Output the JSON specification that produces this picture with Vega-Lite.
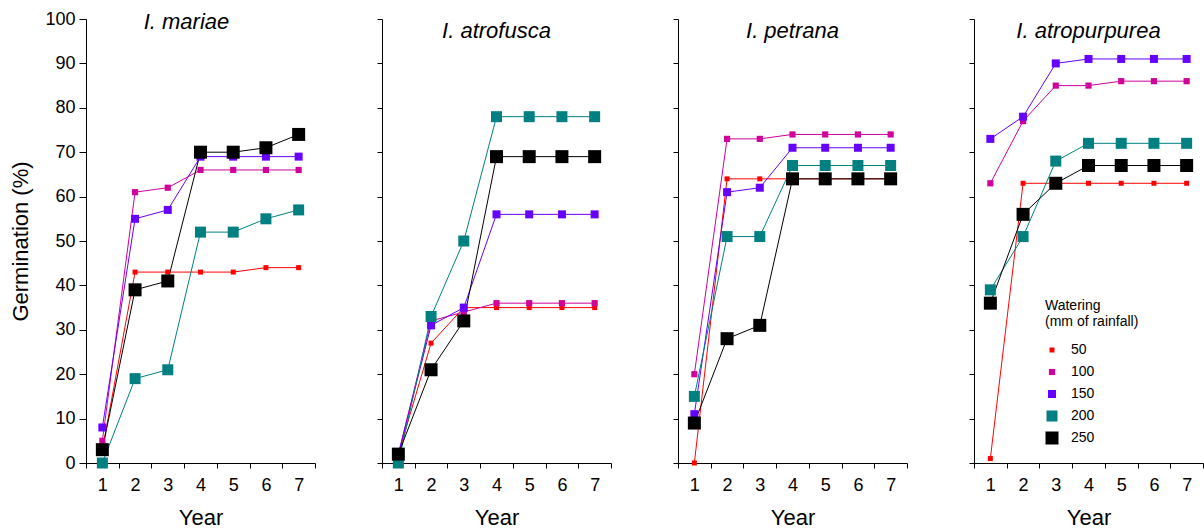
{
  "$schema": "https://vega.github.io/schema/vega-lite/v6.json",
  "padding": {"left": 9, "top": 10, "right": 0, "bottom": 0},
  "config": {
    "font": "Liberation Sans",
    "view": {"stroke": null},
    "axis": {"grid": false, "domainColor": "black", "tickColor": "black", "labelColor": "black", "titleColor": "black", "titleFontWeight": "normal", "labelFont": "Liberation Sans", "titleFont": "Liberation Sans"},
    "title": {"font": "Liberation Sans", "fontStyle": "italic", "fontWeight": "normal", "fontSize": 22, "color": "black", "anchor": "middle", "offset": -24},
    "legend": {"titleFontSize": 14, "titleFontWeight": "normal", "labelFontSize": 14, "titleColor": "black", "labelColor": "black", "labelFont": "Liberation Sans", "titleFont": "Liberation Sans"}
  },
  "data": {"values": [
    {"species": "I. mariae", "watering": 50, "year": 1, "germination": 3},
    {"species": "I. mariae", "watering": 50, "year": 2, "germination": 43},
    {"species": "I. mariae", "watering": 50, "year": 3, "germination": 43},
    {"species": "I. mariae", "watering": 50, "year": 4, "germination": 43},
    {"species": "I. mariae", "watering": 50, "year": 5, "germination": 43},
    {"species": "I. mariae", "watering": 50, "year": 6, "germination": 44},
    {"species": "I. mariae", "watering": 50, "year": 7, "germination": 44},
    {"species": "I. mariae", "watering": 100, "year": 1, "germination": 5},
    {"species": "I. mariae", "watering": 100, "year": 2, "germination": 61},
    {"species": "I. mariae", "watering": 100, "year": 3, "germination": 62},
    {"species": "I. mariae", "watering": 100, "year": 4, "germination": 66},
    {"species": "I. mariae", "watering": 100, "year": 5, "germination": 66},
    {"species": "I. mariae", "watering": 100, "year": 6, "germination": 66},
    {"species": "I. mariae", "watering": 100, "year": 7, "germination": 66},
    {"species": "I. mariae", "watering": 150, "year": 1, "germination": 8},
    {"species": "I. mariae", "watering": 150, "year": 2, "germination": 55},
    {"species": "I. mariae", "watering": 150, "year": 3, "germination": 57},
    {"species": "I. mariae", "watering": 150, "year": 4, "germination": 69},
    {"species": "I. mariae", "watering": 150, "year": 5, "germination": 69},
    {"species": "I. mariae", "watering": 150, "year": 6, "germination": 69},
    {"species": "I. mariae", "watering": 150, "year": 7, "germination": 69},
    {"species": "I. mariae", "watering": 200, "year": 1, "germination": 0},
    {"species": "I. mariae", "watering": 200, "year": 2, "germination": 19},
    {"species": "I. mariae", "watering": 200, "year": 3, "germination": 21},
    {"species": "I. mariae", "watering": 200, "year": 4, "germination": 52},
    {"species": "I. mariae", "watering": 200, "year": 5, "germination": 52},
    {"species": "I. mariae", "watering": 200, "year": 6, "germination": 55},
    {"species": "I. mariae", "watering": 200, "year": 7, "germination": 57},
    {"species": "I. mariae", "watering": 250, "year": 1, "germination": 3},
    {"species": "I. mariae", "watering": 250, "year": 2, "germination": 39},
    {"species": "I. mariae", "watering": 250, "year": 3, "germination": 41},
    {"species": "I. mariae", "watering": 250, "year": 4, "germination": 70},
    {"species": "I. mariae", "watering": 250, "year": 5, "germination": 70},
    {"species": "I. mariae", "watering": 250, "year": 6, "germination": 71},
    {"species": "I. mariae", "watering": 250, "year": 7, "germination": 74},
    {"species": "I. atrofusca", "watering": 50, "year": 1, "germination": 2},
    {"species": "I. atrofusca", "watering": 50, "year": 2, "germination": 27},
    {"species": "I. atrofusca", "watering": 50, "year": 3, "germination": 35},
    {"species": "I. atrofusca", "watering": 50, "year": 4, "germination": 35},
    {"species": "I. atrofusca", "watering": 50, "year": 5, "germination": 35},
    {"species": "I. atrofusca", "watering": 50, "year": 6, "germination": 35},
    {"species": "I. atrofusca", "watering": 50, "year": 7, "germination": 35},
    {"species": "I. atrofusca", "watering": 100, "year": 1, "germination": 2},
    {"species": "I. atrofusca", "watering": 100, "year": 2, "germination": 32},
    {"species": "I. atrofusca", "watering": 100, "year": 3, "germination": 34},
    {"species": "I. atrofusca", "watering": 100, "year": 4, "germination": 36},
    {"species": "I. atrofusca", "watering": 100, "year": 5, "germination": 36},
    {"species": "I. atrofusca", "watering": 100, "year": 6, "germination": 36},
    {"species": "I. atrofusca", "watering": 100, "year": 7, "germination": 36},
    {"species": "I. atrofusca", "watering": 150, "year": 1, "germination": 2},
    {"species": "I. atrofusca", "watering": 150, "year": 2, "germination": 31},
    {"species": "I. atrofusca", "watering": 150, "year": 3, "germination": 35},
    {"species": "I. atrofusca", "watering": 150, "year": 4, "germination": 56},
    {"species": "I. atrofusca", "watering": 150, "year": 5, "germination": 56},
    {"species": "I. atrofusca", "watering": 150, "year": 6, "germination": 56},
    {"species": "I. atrofusca", "watering": 150, "year": 7, "germination": 56},
    {"species": "I. atrofusca", "watering": 200, "year": 1, "germination": 0},
    {"species": "I. atrofusca", "watering": 200, "year": 2, "germination": 33},
    {"species": "I. atrofusca", "watering": 200, "year": 3, "germination": 50},
    {"species": "I. atrofusca", "watering": 200, "year": 4, "germination": 78},
    {"species": "I. atrofusca", "watering": 200, "year": 5, "germination": 78},
    {"species": "I. atrofusca", "watering": 200, "year": 6, "germination": 78},
    {"species": "I. atrofusca", "watering": 200, "year": 7, "germination": 78},
    {"species": "I. atrofusca", "watering": 250, "year": 1, "germination": 2},
    {"species": "I. atrofusca", "watering": 250, "year": 2, "germination": 21},
    {"species": "I. atrofusca", "watering": 250, "year": 3, "germination": 32},
    {"species": "I. atrofusca", "watering": 250, "year": 4, "germination": 69},
    {"species": "I. atrofusca", "watering": 250, "year": 5, "germination": 69},
    {"species": "I. atrofusca", "watering": 250, "year": 6, "germination": 69},
    {"species": "I. atrofusca", "watering": 250, "year": 7, "germination": 69},
    {"species": "I. petrana", "watering": 50, "year": 1, "germination": 0},
    {"species": "I. petrana", "watering": 50, "year": 2, "germination": 64},
    {"species": "I. petrana", "watering": 50, "year": 3, "germination": 64},
    {"species": "I. petrana", "watering": 50, "year": 4, "germination": 64},
    {"species": "I. petrana", "watering": 50, "year": 5, "germination": 64},
    {"species": "I. petrana", "watering": 50, "year": 6, "germination": 64},
    {"species": "I. petrana", "watering": 50, "year": 7, "germination": 64},
    {"species": "I. petrana", "watering": 100, "year": 1, "germination": 20},
    {"species": "I. petrana", "watering": 100, "year": 2, "germination": 73},
    {"species": "I. petrana", "watering": 100, "year": 3, "germination": 73},
    {"species": "I. petrana", "watering": 100, "year": 4, "germination": 74},
    {"species": "I. petrana", "watering": 100, "year": 5, "germination": 74},
    {"species": "I. petrana", "watering": 100, "year": 6, "germination": 74},
    {"species": "I. petrana", "watering": 100, "year": 7, "germination": 74},
    {"species": "I. petrana", "watering": 150, "year": 1, "germination": 11},
    {"species": "I. petrana", "watering": 150, "year": 2, "germination": 61},
    {"species": "I. petrana", "watering": 150, "year": 3, "germination": 62},
    {"species": "I. petrana", "watering": 150, "year": 4, "germination": 71},
    {"species": "I. petrana", "watering": 150, "year": 5, "germination": 71},
    {"species": "I. petrana", "watering": 150, "year": 6, "germination": 71},
    {"species": "I. petrana", "watering": 150, "year": 7, "germination": 71},
    {"species": "I. petrana", "watering": 200, "year": 1, "germination": 15},
    {"species": "I. petrana", "watering": 200, "year": 2, "germination": 51},
    {"species": "I. petrana", "watering": 200, "year": 3, "germination": 51},
    {"species": "I. petrana", "watering": 200, "year": 4, "germination": 67},
    {"species": "I. petrana", "watering": 200, "year": 5, "germination": 67},
    {"species": "I. petrana", "watering": 200, "year": 6, "germination": 67},
    {"species": "I. petrana", "watering": 200, "year": 7, "germination": 67},
    {"species": "I. petrana", "watering": 250, "year": 1, "germination": 9},
    {"species": "I. petrana", "watering": 250, "year": 2, "germination": 28},
    {"species": "I. petrana", "watering": 250, "year": 3, "germination": 31},
    {"species": "I. petrana", "watering": 250, "year": 4, "germination": 64},
    {"species": "I. petrana", "watering": 250, "year": 5, "germination": 64},
    {"species": "I. petrana", "watering": 250, "year": 6, "germination": 64},
    {"species": "I. petrana", "watering": 250, "year": 7, "germination": 64},
    {"species": "I. atropurpurea", "watering": 50, "year": 1, "germination": 1},
    {"species": "I. atropurpurea", "watering": 50, "year": 2, "germination": 63},
    {"species": "I. atropurpurea", "watering": 50, "year": 3, "germination": 63},
    {"species": "I. atropurpurea", "watering": 50, "year": 4, "germination": 63},
    {"species": "I. atropurpurea", "watering": 50, "year": 5, "germination": 63},
    {"species": "I. atropurpurea", "watering": 50, "year": 6, "germination": 63},
    {"species": "I. atropurpurea", "watering": 50, "year": 7, "germination": 63},
    {"species": "I. atropurpurea", "watering": 100, "year": 1, "germination": 63},
    {"species": "I. atropurpurea", "watering": 100, "year": 2, "germination": 77},
    {"species": "I. atropurpurea", "watering": 100, "year": 3, "germination": 85},
    {"species": "I. atropurpurea", "watering": 100, "year": 4, "germination": 85},
    {"species": "I. atropurpurea", "watering": 100, "year": 5, "germination": 86},
    {"species": "I. atropurpurea", "watering": 100, "year": 6, "germination": 86},
    {"species": "I. atropurpurea", "watering": 100, "year": 7, "germination": 86},
    {"species": "I. atropurpurea", "watering": 150, "year": 1, "germination": 73},
    {"species": "I. atropurpurea", "watering": 150, "year": 2, "germination": 78},
    {"species": "I. atropurpurea", "watering": 150, "year": 3, "germination": 90},
    {"species": "I. atropurpurea", "watering": 150, "year": 4, "germination": 91},
    {"species": "I. atropurpurea", "watering": 150, "year": 5, "germination": 91},
    {"species": "I. atropurpurea", "watering": 150, "year": 6, "germination": 91},
    {"species": "I. atropurpurea", "watering": 150, "year": 7, "germination": 91},
    {"species": "I. atropurpurea", "watering": 200, "year": 1, "germination": 39},
    {"species": "I. atropurpurea", "watering": 200, "year": 2, "germination": 51},
    {"species": "I. atropurpurea", "watering": 200, "year": 3, "germination": 68},
    {"species": "I. atropurpurea", "watering": 200, "year": 4, "germination": 72},
    {"species": "I. atropurpurea", "watering": 200, "year": 5, "germination": 72},
    {"species": "I. atropurpurea", "watering": 200, "year": 6, "germination": 72},
    {"species": "I. atropurpurea", "watering": 200, "year": 7, "germination": 72},
    {"species": "I. atropurpurea", "watering": 250, "year": 1, "germination": 36},
    {"species": "I. atropurpurea", "watering": 250, "year": 2, "germination": 56},
    {"species": "I. atropurpurea", "watering": 250, "year": 3, "germination": 63},
    {"species": "I. atropurpurea", "watering": 250, "year": 4, "germination": 67},
    {"species": "I. atropurpurea", "watering": 250, "year": 5, "germination": 67},
    {"species": "I. atropurpurea", "watering": 250, "year": 6, "germination": 67},
    {"species": "I. atropurpurea", "watering": 250, "year": 7, "germination": 67}
  ]},
  "spacing": 60,
  "hconcat": [
    {
      "width": 229, "height": 444,
      "title": {"text": "I. mariae", "dx": -14},
      "transform": [{"filter": "datum.species === 'I. mariae'"}],
      "encoding": {
        "x": {"field": "year", "type": "ordinal", "scale": {"type": "band", "paddingInner": 0, "paddingOuter": 0}, "axis": {"title": "Year", "labelAngle": 0, "tickBand": "extent", "labelFontSize": 18, "titleFontSize": 22, "tickSize": 5, "labelPadding": 8, "titlePadding": 13}},
        "y": {"field": "germination", "type": "quantitative", "scale": {"domain": [0, 100], "nice": false}, "axis": {"title": "Germination (%)", "values": [0, 10, 20, 30, 40, 50, 60, 70, 80, 90, 100], "labelFontSize": 18, "titleFontSize": 22, "tickSize": 7, "labelPadding": 4, "titlePadding": 12}},
        "color": {"field": "watering", "type": "ordinal", "scale": {"domain": [50, 100, 150, 200, 250], "range": ["#FF0000", "#D0009A", "#6600FF", "#008080", "#000000"]}, "legend": {"title": ["Watering", "(mm of rainfall)"], "orient": "none", "legendX": 959, "legendY": 280, "symbolType": "square", "rowPadding": 8, "titlePadding": 14, "symbolStrokeWidth": 0, "labelOffset": 12}},
        "size": {"field": "watering", "type": "ordinal", "scale": {"type": "ordinal", "domain": [50, 100, 150, 200, 250], "range": [25, 38, 64, 121, 169]}}
      },
      "layer": [
        {"mark": {"type": "line", "strokeWidth": 1}, "encoding": {"size": {"value": 1}}},
        {"mark": {"type": "point", "shape": "square", "filled": true, "opacity": 1}}
      ]
    },
    {
      "width": 229, "height": 444,
      "title": {"text": "I. atrofusca"},
      "transform": [{"filter": "datum.species === 'I. atrofusca'"}],
      "encoding": {
        "x": {"field": "year", "type": "ordinal", "scale": {"type": "band", "paddingInner": 0, "paddingOuter": 0}, "axis": {"title": "Year", "labelAngle": 0, "tickBand": "extent", "labelFontSize": 18, "titleFontSize": 22, "tickSize": 5, "labelPadding": 8, "titlePadding": 13}},
        "y": {"field": "germination", "type": "quantitative", "scale": {"domain": [0, 100], "nice": false}, "axis": {"title": null, "values": [0, 10, 20, 30, 40, 50, 60, 70, 80, 90, 100], "labels": false, "tickSize": 5}},
        "color": {"field": "watering", "type": "ordinal", "scale": {"domain": [50, 100, 150, 200, 250], "range": ["#FF0000", "#D0009A", "#6600FF", "#008080", "#000000"]}},
        "size": {"field": "watering", "type": "ordinal", "scale": {"type": "ordinal", "domain": [50, 100, 150, 200, 250], "range": [25, 38, 64, 121, 169]}}
      },
      "layer": [
        {"mark": {"type": "line", "strokeWidth": 1}, "encoding": {"size": {"value": 1}}},
        {"mark": {"type": "point", "shape": "square", "filled": true, "opacity": 1}}
      ]
    },
    {
      "width": 229, "height": 444,
      "title": {"text": "I. petrana"},
      "transform": [{"filter": "datum.species === 'I. petrana'"}],
      "encoding": {
        "x": {"field": "year", "type": "ordinal", "scale": {"type": "band", "paddingInner": 0, "paddingOuter": 0}, "axis": {"title": "Year", "labelAngle": 0, "tickBand": "extent", "labelFontSize": 18, "titleFontSize": 22, "tickSize": 5, "labelPadding": 8, "titlePadding": 13}},
        "y": {"field": "germination", "type": "quantitative", "scale": {"domain": [0, 100], "nice": false}, "axis": {"title": null, "values": [0, 10, 20, 30, 40, 50, 60, 70, 80, 90, 100], "labels": false, "tickSize": 5}},
        "color": {"field": "watering", "type": "ordinal", "scale": {"domain": [50, 100, 150, 200, 250], "range": ["#FF0000", "#D0009A", "#6600FF", "#008080", "#000000"]}},
        "size": {"field": "watering", "type": "ordinal", "scale": {"type": "ordinal", "domain": [50, 100, 150, 200, 250], "range": [25, 38, 64, 121, 169]}}
      },
      "layer": [
        {"mark": {"type": "line", "strokeWidth": 1}, "encoding": {"size": {"value": 1}}},
        {"mark": {"type": "point", "shape": "square", "filled": true, "opacity": 1}}
      ]
    },
    {
      "width": 229, "height": 444,
      "title": {"text": "I. atropurpurea"},
      "transform": [{"filter": "datum.species === 'I. atropurpurea'"}],
      "encoding": {
        "x": {"field": "year", "type": "ordinal", "scale": {"type": "band", "paddingInner": 0, "paddingOuter": 0}, "axis": {"title": "Year", "labelAngle": 0, "tickBand": "extent", "labelFontSize": 18, "titleFontSize": 22, "tickSize": 5, "labelPadding": 8, "titlePadding": 13}},
        "y": {"field": "germination", "type": "quantitative", "scale": {"domain": [0, 100], "nice": false}, "axis": {"title": null, "values": [0, 10, 20, 30, 40, 50, 60, 70, 80, 90, 100], "labels": false, "tickSize": 5}},
        "color": {"field": "watering", "type": "ordinal", "scale": {"domain": [50, 100, 150, 200, 250], "range": ["#FF0000", "#D0009A", "#6600FF", "#008080", "#000000"]}},
        "size": {"field": "watering", "type": "ordinal", "scale": {"type": "ordinal", "domain": [50, 100, 150, 200, 250], "range": [25, 38, 64, 121, 169]}}
      },
      "layer": [
        {"mark": {"type": "line", "strokeWidth": 1}, "encoding": {"size": {"value": 1}}},
        {"mark": {"type": "point", "shape": "square", "filled": true, "opacity": 1}}
      ]
    }
  ]
}
